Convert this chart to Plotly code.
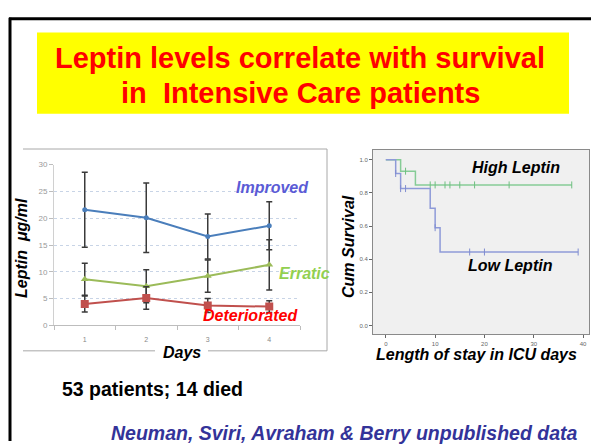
import plotly.graph_objects as go

W, H = 591, 445

# ---------------- data ----------------
days = [1, 2, 3, 4]
day_labels = ["1", "2", "3", "4"]
improved = [21.6, 20.1, 16.6, 18.6]
improved_err = [7.0, 6.5, 4.2, 4.5]
erratic = [8.6, 7.3, 9.2, 11.3]
erratic_err = [3.0, 3.1, 3.0, 4.7]
deteriorated = [4.0, 5.1, 3.7, 3.5]
deteriorated_err = [1.5, 2.1, 1.3, 1.1]
leptin_ticks = [0, 5, 10, 15, 20, 25, 30]

low_t = [0, 2, 3, 9, 10, 11, 39]
low_s = [1.0, 0.917, 0.826, 0.708, 0.590, 0.443, 0.443]
low_cens_t = [2, 3, 4, 10, 17, 20, 39]
low_cens_s = [0.917, 0.826, 0.826, 0.590, 0.443, 0.443, 0.443]
high_t = [0, 3, 6, 37.7]
high_s = [1.0, 0.931, 0.848, 0.848]
high_cens_t = [4, 9, 10, 12, 13, 15, 18, 25, 37.7]
high_cens_s = [0.931, 0.848, 0.848, 0.848, 0.848, 0.848, 0.848, 0.848, 0.848]
surv_ticks = [0.0, 0.2, 0.4, 0.6, 0.8, 1.0]
surv_labels = ["0.0", "0.2", "0.4", "0.6", "0.8", "1.0"]
stay_ticks = [0, 10, 20, 30, 40]


def px(x):
    return x / W


def py(y):
    return 1 - y / H


fig = go.Figure()

# ---------------- left chart ----------------
def err(e):
    return dict(type="data", array=e, visible=True, color="#3a3a3a",
                thickness=1.5, width=3)

fig.add_trace(go.Scatter(x=days, y=improved, error_y=err(improved_err),
                         mode="lines+markers", line=dict(color="#4a7ebb", width=2),
                         marker=dict(symbol="circle", size=5, color="#4a7ebb"),
                         xaxis="x", yaxis="y", showlegend=False))
fig.add_trace(go.Scatter(x=days, y=erratic, error_y=err(erratic_err),
                         mode="lines+markers", line=dict(color="#9bbb59", width=2),
                         marker=dict(symbol="triangle-up", size=7, color="#9bbb59"),
                         xaxis="x", yaxis="y", showlegend=False))
fig.add_trace(go.Scatter(x=days, y=deteriorated, error_y=err(deteriorated_err),
                         mode="lines+markers", line=dict(color="#c0504d", width=2),
                         marker=dict(symbol="square", size=8, color="#c0504d"),
                         xaxis="x", yaxis="y", showlegend=False))

# ---------------- right chart (Kaplan-Meier) ----------------
fig.add_trace(go.Scatter(x=high_t, y=high_s, mode="lines", line_shape="hv",
                         line=dict(color="#86cc96", width=1.5),
                         xaxis="x2", yaxis="y2", showlegend=False))
fig.add_trace(go.Scatter(x=high_cens_t, y=high_cens_s, mode="markers",
                         marker=dict(symbol="line-ns", size=5,
                                     line=dict(color="#6fbf80", width=1)),
                         xaxis="x2", yaxis="y2", showlegend=False))
fig.add_trace(go.Scatter(x=low_t, y=low_s, mode="lines", line_shape="hv",
                         line=dict(color="#8e9ad8", width=1.5),
                         xaxis="x2", yaxis="y2", showlegend=False))
fig.add_trace(go.Scatter(x=low_cens_t, y=low_cens_s, mode="markers",
                         marker=dict(symbol="line-ns", size=5,
                                     line=dict(color="#7f8cd0", width=1)),
                         xaxis="x2", yaxis="y2", showlegend=False))

fig.update_layout(
    width=W, height=H,
    margin=dict(l=0, r=0, t=0, b=0),
    paper_bgcolor="white", plot_bgcolor="rgba(0,0,0,0)",
    font=dict(family="Liberation Sans, Arial, sans-serif"),
    hovermode=False,
    xaxis=dict(domain=[px(54), px(300)], range=[0.5, 4.5],
               tickvals=days, ticktext=day_labels, ticks="",
               tickfont=dict(size=7, color="#888888"),
               showline=True, linecolor="#bdbdbd", linewidth=1,
               showgrid=False, zeroline=False,
               minor=dict(ticks="outside", tick0=0.5, dtick=1, ticklen=4,
                          tickcolor="#bdbdbd", showgrid=False),
               anchor="y", ticklabelstandoff=7),
    yaxis=dict(domain=[py(328), py(164)], range=[0, 30],
               tickvals=leptin_ticks, ticks="outside", ticklen=4,
               tickcolor="#bdbdbd",
               tickfont=dict(size=8, color="#999999"),
               showline=True, linecolor="#d0d0d0", linewidth=1,
               showgrid=True, gridcolor="#c8d4e6", griddash="dot", gridwidth=1,
               zeroline=False, anchor="x"),
    xaxis2=dict(domain=[px(373), px(589)], range=[-2.6, 41.2],
                tickvals=stay_ticks, ticks="outside", ticklen=3,
                tickcolor="#666666", tickfont=dict(size=6, color="#666666"),
                showline=True, mirror=True, linecolor="#8a8a8a", linewidth=1,
                showgrid=False, zeroline=False, anchor="y2",
                ticklabelstandoff=1),
    yaxis2=dict(domain=[py(337), py(149)], range=[-0.053, 1.059],
                tickvals=surv_ticks, ticktext=surv_labels,
                ticks="outside", ticklen=3,
                tickcolor="#666666", tickfont=dict(size=6, color="#666666"),
                showline=True, mirror=True, linecolor="#8a8a8a", linewidth=1,
                showgrid=False, zeroline=False, anchor="x2"),
)

shapes = []
# right chart background
shapes.append(dict(type="rect", xref="x2 domain", yref="y2 domain",
                   x0=0, x1=1, y0=0, y1=1, fillcolor="#f0f0f0",
                   line=dict(width=0), layer="below"))
# yellow title box
shapes.append(dict(type="rect", xref="paper", yref="paper",
                   x0=px(37), x1=px(569), y0=py(112), y1=py(29),
                   fillcolor="#ffff00", line=dict(width=0), layer="below"))
# slide border
shapes.append(dict(type="line", xref="paper", yref="paper",
                   x0=px(10), x1=px(10), y0=py(14), y1=py(446),
                   line=dict(color="black", width=3)))
shapes.append(dict(type="line", xref="paper", yref="paper",
                   x0=px(9), x1=px(592), y0=py(15), y1=py(15),
                   line=dict(color="black", width=3)))
# left chart frame
fc = "#a8a8a8"
shapes.append(dict(type="line", xref="paper", yref="paper",
                   x0=px(23), x1=px(327), y0=py(148), y1=py(148),
                   line=dict(color=fc, width=1)))
shapes.append(dict(type="line", xref="paper", yref="paper",
                   x0=px(327), x1=px(327), y0=py(148), y1=py(354),
                   line=dict(color=fc, width=1)))
shapes.append(dict(type="line", xref="paper", yref="paper",
                   x0=px(23), x1=px(155), y0=py(354), y1=py(354),
                   line=dict(color=fc, width=1)))
shapes.append(dict(type="line", xref="paper", yref="paper",
                   x0=px(208), x1=px(327), y0=py(354), y1=py(354),
                   line=dict(color=fc, width=1)))
fig.update_layout(shapes=shapes)


def ann(text, x, y, size, color="black", xanchor="center", bold=True,
        italic=True, angle=0):
    t = text
    if bold:
        t = "<b>" + t + "</b>"
    if italic:
        t = "<i>" + t + "</i>"
    fig.add_annotation(text=t, x=px(x), y=py(y), xref="paper", yref="paper",
                       xanchor=xanchor, yanchor="middle", showarrow=False,
                       textangle=angle,
                       font=dict(size=size, color=color,
                                 family="Liberation Sans, Arial, sans-serif"))


ann("Leptin levels correlate with survival", 300, 55, 29, "#ff0000", italic=False)
ann("in \u00a0Intensive Care patients", 300, 91, 29, "#ff0000", italic=False)
ann("Improved", 272, 187, 16, "#5b5bd6")
ann("Erratic", 277, 275, 16, "#92d050", xanchor="left")
ann("Deteriorated", 250, 318, 16, "#ff0000")
ann("Days", 182, 356, 16)
ann("Leptin \u00a0\u03bcg/ml", 22, 249, 16, angle=-90)
ann("High Leptin", 516, 167, 16)
ann("Low Leptin", 510, 267, 16)
ann("Cum Survival", 349, 248, 16, angle=-90)
ann("Length of stay in ICU days", 476, 358, 16)
ann("53 patients; 14 died", 60, 393, 19.5, xanchor="left", italic=False)
ann("Neuman, Sviri, Avraham &amp; Berry unpublished data", 109, 438, 19.5,
    "#333399", xanchor="left")

fig.write_html("out.html",
               config={"displayModeBar": False, "staticPlot": True},
               post_script="document.body.style.margin='0';"
                           "document.body.style.overflow='hidden';")
